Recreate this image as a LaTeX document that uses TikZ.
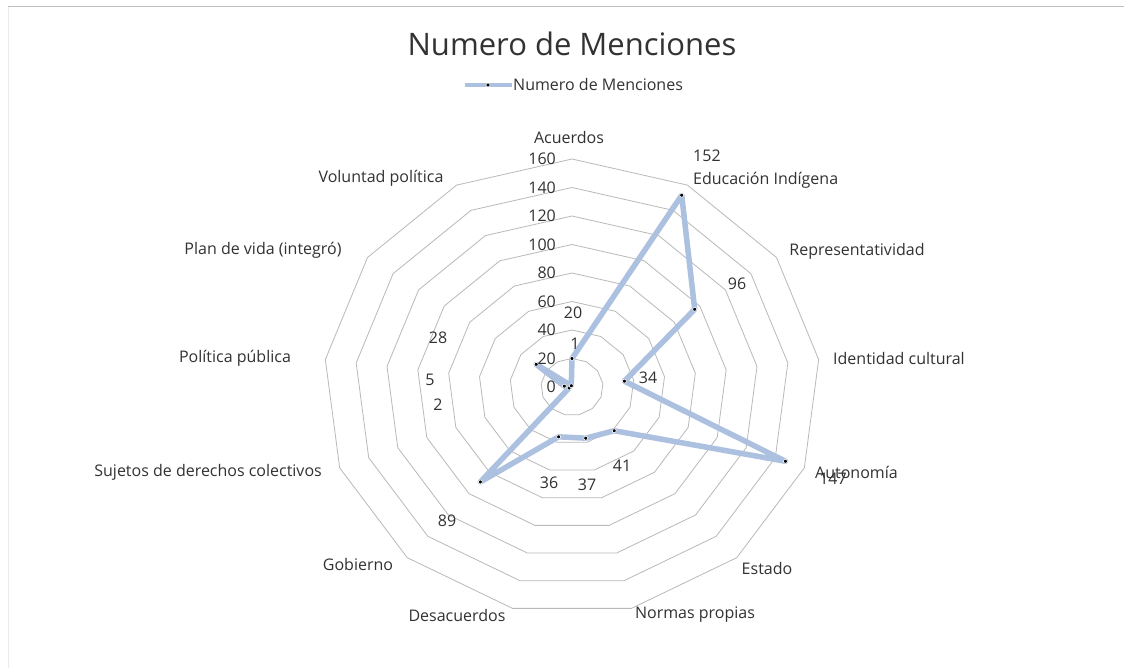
\documentclass[tikz,border=0pt]{standalone}
\usepackage{fontspec}
\setmainfont{Open Sans}
\definecolor{sercol}{RGB}{172,192,224}
\definecolor{gridcol}{RGB}{185,185,185}
\definecolor{txtcol}{RGB}{50,50,50}
\begin{document}
\begin{tikzpicture}[x=1pt,y=1pt,
  cat/.style={font=\fontsize{16}{18}\selectfont, text=txtcol, inner sep=0pt},
  val/.style={font=\fontsize{16}{18}\selectfont, text=txtcol, inner sep=0pt},
  tick/.style={font=\fontsize{16}{18}\selectfont, text=txtcol, inner sep=0pt, anchor=east},
  ring/.style={draw=gridcol, line width=0.8pt},
  series/.style={draw=sercol, line width=5.5pt, line join=round},
  dot/.style={circle, fill=black, draw=white, line width=0.6pt, inner sep=0pt, minimum size=4pt}]
% background and frame
\fill[white] (0,0) rectangle (1124,-671);
\useasboundingbox (0,0) rectangle (1124,-671);
\draw[black!25, line width=1pt] (8,-7) -- (1124,-7);
\draw[black!8, line width=1pt] (8,-7) -- (8,-668);
% title and legend
\node[font=\fontsize{31}{36}\selectfont, text=txtcol] (title) at (572,-44) {Numero de Menciones};
\coordinate (legA) at (465,-85);
\coordinate (legB) at (512,-85);
\draw[series, line width=4.5pt] (legA) -- (legB);
\node[dot] (legdot) at (488,-85) {};
\node[cat, anchor=west] (legtxt) at (513,-85) {Numero de Menciones};
% radar
\begin{scope}[shift={(572,-387)}, x=1.553pt, y=1.425pt]
  \foreach \k in {1,...,8}
    \draw[ring] (90:{20*\k}) \foreach \i in {1,...,12} { -- ({90-\i*360/13}:{20*\k}) } -- cycle;
  \foreach \v [count=\i from 0] in {20,152,96,34,147,41,37,36,89,2,5,28,1}
    \coordinate (p\i) at ({90-\i*360/13}:\v);
  \draw[series] (p0) -- (p1) -- (p2) -- (p3) -- (p4) -- (p5) -- (p6) -- (p7) -- (p8) -- (p9) -- (p10) -- (p11) -- (p12) -- cycle;
  \foreach \i in {0,...,12}
    \node[dot] (m\i) at (p\i) {};
\end{scope}
% tick labels
\foreach \t [count=\k from 0] in {0,20,40,60,80,100,120,140,160}
  \node[tick] (t\k) at (556,{-387+28.5*\k}) {\t};
% category labels
\node[cat] (c0) at (569,-138) {Acuerdos};
\node[cat, anchor=west] (c1) at (693,-180) {Educación Indígena};
\node[cat] (c2) at (857,-251) {Representatividad};
\node[cat, anchor=west] (c3) at (833,-358) {Identidad cultural};
\node[cat, anchor=west] (c4) at (815,-472) {Autonomía};
\node[cat] (c5) at (767,-568) {Estado};
\node[cat] (c6) at (695,-615) {Normas propias};
\node[cat] (c7) at (457,-615) {Desacuerdos};
\node[cat] (c8) at (358,-564) {Gobierno};
\node[cat, anchor=east] (c9) at (322,-472) {Sujetos de derechos colectivos};
\node[cat] (c10) at (235,-358) {Política pública};
\node[cat] (c11) at (263,-250) {Plan de vida (integró)};
\node[cat] (c12) at (381,-178) {Voluntad política};
% value labels
\node[val] (v0) at (573,-313) {20};
\node[val, anchor=west] (v1) at (693,-156) {152};
\node[val] (v2) at (737,-284) {96};
\node[val] (v3) at (648,-378) {34};
\node[val] (v4) at (833,-479) {147};
\node[val] (v5) at (622,-466) {41};
\node[val] (v6) at (587,-485) {37};
\node[val] (v7) at (549,-483) {36};
\node[val] (v8) at (447,-521) {89};
\node[val] (v9) at (438,-405) {2};
\node[val] (v10) at (430,-380) {5};
\node[val] (v11) at (438,-338) {28};
\node[val] (v12) at (575,-344) {1};
\end{tikzpicture}
\end{document}
